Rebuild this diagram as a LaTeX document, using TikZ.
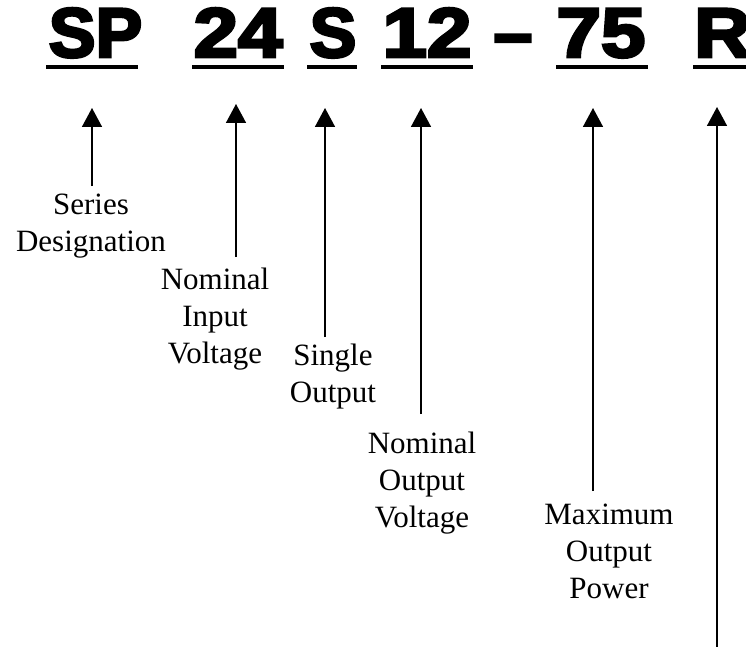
\documentclass[tikz,border=0pt]{standalone}
\usepackage{fontspec}
\usepackage{graphicx}
\setmainfont{Liberation Serif}
\newfontfamily\codefont[FakeBold=4]{Liberation Sans Bold}
\usetikzlibrary{arrows.meta}
\tikzset{
  code/.style={inner sep=0pt, anchor=base, font=\codefont\fontsize{70}{70}\selectfont},
  label/.style={inner sep=0pt, anchor=base, align=center, font=\fontsize{31}{37}\selectfont},
  uline/.style={line width=4pt},
  arr/.style={line width=1.6pt, -{Triangle[width=20pt,length=19pt]}}
}
\begin{document}
\begin{tikzpicture}[x=1pt,y=-1pt]
\useasboundingbox (0,0) rectangle (746,647);
% code letters
\node[code] (sp) at (95.5,57) {SP};
\node[code] (n24) at (238,57) {\scalebox{1.14}[1]{24}};
\node[code] (s) at (333,57) {S};
\node[code] (n12) at (427,57) {\scalebox{1.14}[1]{12}};
\node[code] (dash) at (513,57) {–};
\node[code] (n75) at (601,57) {\scalebox{1.14}[1]{75}};
\node[code, anchor=base west] (r) at (694,57) {\scalebox{1.12}[1]{R}};
% underlines
\draw[uline] (46,67) -- (138,67);
\draw[uline] (192,67) -- (284,67);
\draw[uline] (307,67) -- (357,67);
\draw[uline] (381,67) -- (473,67);
\draw[uline] (556,67) -- (648,67);
\draw[uline] (693,67) -- (746,67);
% labels (base = baseline of last line)
\node[label] (series) at (91,251) {Series\\Designation};
\node[label] (input) at (215,363) {Nominal\\Input\\Voltage};
\node[label] (single) at (333,402) {Single\\Output};
\node[label] (output) at (422,527) {Nominal\\Output\\Voltage};
\node[label] (power) at (609,598) {Maximum\\Output\\Power};
% arrow ends
\coordinate (t1) at (92,186);  \coordinate (h1) at (92,108);
\coordinate (t2) at (236,257); \coordinate (h2) at (236,104);
\coordinate (t3) at (325,337); \coordinate (h3) at (325,108);
\coordinate (t4) at (421,414); \coordinate (h4) at (421,108);
\coordinate (t5) at (593,491); \coordinate (h5) at (593,108);
\coordinate (t6) at (717,647); \coordinate (h6) at (717,107);
\foreach \i in {1,...,6} \draw[arr] (t\i) -- (h\i);
\end{tikzpicture}
\end{document}
